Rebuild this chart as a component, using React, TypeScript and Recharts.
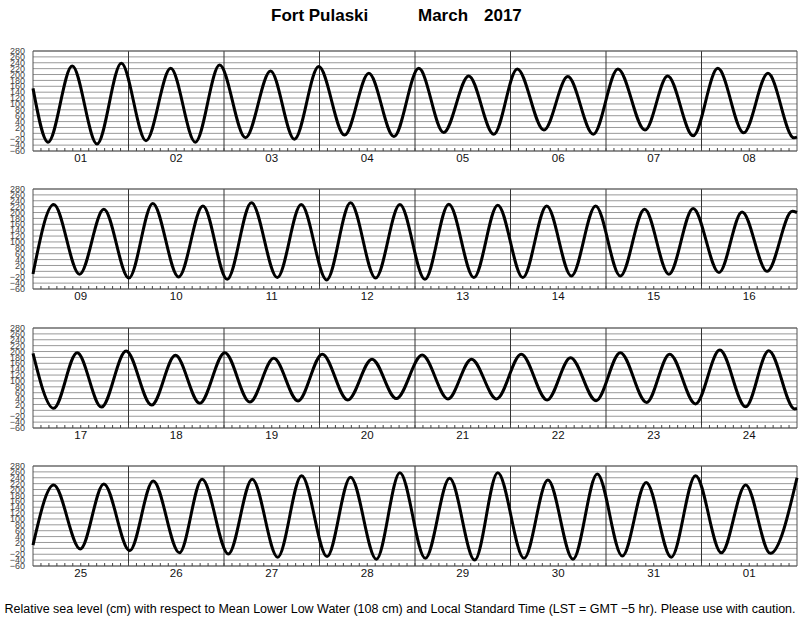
import React from "react";
import { LineChart, Line, XAxis, YAxis, CartesianGrid, ReferenceLine } from "recharts";

// tide extremes: hours since the first midnight of each panel, level in cm
const p1Hours = [0, 3.8, 9.85, 16.1, 22.2, 28.4, 34.6, 40.8, 46.9, 53.4, 59.7, 65.7, 71.8, 78.3, 84.4, 90.7, 96.95, 103.2, 109.5, 115.8, 121.7, 128.4, 134.4, 140.8, 147, 153.8, 159.5, 165.9, 172.1, 178.6, 184.7, 191.2, 192];
const p1Levels = [153, -30, 229, -36, 238, -25, 221, -30, 232, -15, 212, -20, 227, -6, 204, -11, 221, 3, 195, -3, 219, 11, 193, -3, 219, 11, 195, -8, 221, 2, 204, -15, -13];

const p2Hours = [0, 5.2, 11.7, 17.8, 24.1, 30.1, 36.6, 42.7, 48.8, 54.9, 61.4, 67.4, 73.8, 79.8, 86.1, 92.2, 98.5, 104.5, 110.8, 116.8, 123.1, 129.1, 135.3, 141.4, 147.6, 153.7, 159.8, 165.9, 172.4, 178.2, 184.5, 190.8, 192];
const p2Levels = [-9, 227, -10, 211, -23, 231, -19, 222, -27, 233, -21, 227, -29, 233, -23, 227, -27, 228, -21, 225, -21, 222, -16, 222, -16, 211, -10, 214, -4, 202, 0, 204, 200];

const p3Hours = [0, 5.2, 11.1, 17.2, 23.4, 29.8, 35.8, 41.9, 48.2, 54.5, 60.5, 66.6, 72.7, 79.1, 85.2, 91.3, 97.8, 104.3, 110.2, 116.5, 122.7, 129.2, 135.1, 141.5, 147.6, 154.2, 160, 166.5, 172.6, 179.1, 184.9, 191.4, 192];
const p3Levels = [194, 7, 196, 11, 202, 18, 187, 24, 196, 28, 177, 32, 191, 35, 174, 40, 188, 39, 174, 39, 191, 35, 179, 33, 196, 27, 191, 22, 205, 12, 203, 5, 6];

const p4Hours = [0, 5.2, 11.9, 17.8, 24.3, 30.2, 36.8, 42.5, 49.1, 55.1, 61.5, 67.5, 73.9, 79.8, 86.3, 92.2, 98.6, 104.7, 111, 116.8, 123.4, 129.4, 135.7, 141.8, 148.1, 154.1, 160.4, 166.5, 173, 179.1, 185.3, 192];
const p4Levels = [11, 215, -2, 219, -8, 229, -15, 235, -19, 235, -30, 247, -28, 242, -37, 257, -34, 238, -40, 257, -34, 232, -37, 253, -26, 224, -30, 247, -15, 215, -17, 240];

const p1Days = ["01", "02", "03", "04", "05", "06", "07", "08"];
const p2Days = ["09", "10", "11", "12", "13", "14", "15", "16"];
const p3Days = ["17", "18", "19", "20", "21", "22", "23", "24"];
const p4Days = ["25", "26", "27", "28", "29", "30", "31", "01"];

const levelTicks = [-60, -40, -20, 0, 20, 40, 60, 80, 100, 120, 140, 160, 180, 200, 220, 240, 260, 280];
const hourTicks = Array.from({ length: 95 }, (_, i) => (i + 1) * 2);
const dayEdges = [24, 48, 72, 96, 120, 144, 168];

const FONT = '"Liberation Sans", Arial, Helvetica, sans-serif';

function HourTick(props: any) {
  const { x, y, payload, days } = props;
  const h = payload.value;
  const label = h % 24 === 12 ? days[(h - 12) / 24] : null;
  return (
    <g>
      <line x1={x} x2={x} y1={y} y2={y - 3} stroke="#444" />
      {label && (
        <text x={x} y={y + 3} dy="0.71em" textAnchor="middle" fontSize={11.5} fill="#111" fontFamily={FONT}>
          {label}
        </text>
      )}
    </g>
  );
}

function Panel({ hours, levels, days, top }: { hours: number[]; levels: number[]; days: string[]; top: number }) {
  const data = hours.map((h, i) => ({ h, level: levels[i] }));
  return (
    <div style={{ position: "absolute", left: 0, top: top - 5 }}>
      <LineChart width={800} height={130} data={data} margin={{ top: 5, right: 3, bottom: 0, left: 0 }}>
        <CartesianGrid vertical={false} stroke="#999" />
        <XAxis
          dataKey="h"
          type="number"
          domain={[0, 192]}
          ticks={hourTicks}
          interval={0}
          height={25}
          axisLine={false}
          tickLine={false}
          tickSize={0}
          tickMargin={0}
          tick={(p: any) => <HourTick {...p} days={days} />}
        />
        <YAxis
          type="number"
          domain={[-60, 280]}
          ticks={levelTicks}
          interval={0}
          width={33}
          axisLine={false}
          tickLine={false}
          tickMargin={2}
          tick={{ fontSize: 9, fill: "#444", fontFamily: FONT }}
          tickFormatter={(v: number) => (v < 0 ? `\u2212${-v}` : `${v}`)}
        />
        {dayEdges.map((d) => (
          <ReferenceLine key={d} x={d} stroke="#333" />
        ))}
        <ReferenceLine x={0} stroke="#555" />
        <ReferenceLine x={192} stroke="#555" />
        <ReferenceLine y={280} stroke="#555" />
        <ReferenceLine y={-60} stroke="#555" />
        <Line type="monotone" dataKey="level" stroke="#000" strokeWidth={3} dot={false} isAnimationActive={false} />
      </LineChart>
    </div>
  );
}

export default function App() {
  return (
    <div style={{ position: "absolute", left: 0, top: 0, width: 800, height: 618, background: "#fff" }}>
      <svg width={800} height={618} style={{ position: "absolute", left: 0, top: 0 }}>
        <g fontFamily={FONT} fontWeight="bold" fontSize={17} fill="#000">
          <text x={271} y={21}>Fort Pulaski</text>
          <text x={418} y={21}>March</text>
          <text x={484} y={21}>2017</text>
        </g>
        <text x={400} y={613} textAnchor="middle" fontFamily={FONT} fontSize={12.5} fill="#000">
          Relative sea level (cm) with respect to Mean Lower Low Water (108 cm) and Local Standard Time (LST = GMT −5 hr). Please use with caution.
        </text>
      </svg>
      <Panel hours={p1Hours} levels={p1Levels} days={p1Days} top={51} />
      <Panel hours={p2Hours} levels={p2Levels} days={p2Days} top={189} />
      <Panel hours={p3Hours} levels={p3Levels} days={p3Days} top={328} />
      <Panel hours={p4Hours} levels={p4Levels} days={p4Days} top={466} />
    </div>
  );
}
